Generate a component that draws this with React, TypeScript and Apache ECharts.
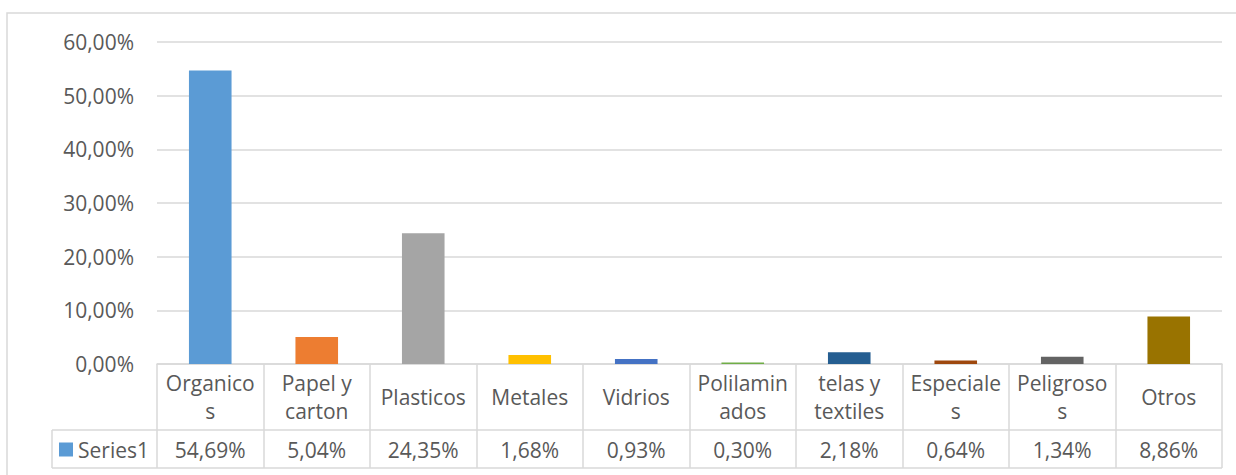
import React, { useEffect, useRef } from "react";
import * as echarts from "echarts";

const categories = [
  "Organicos",
  "Papel y carton",
  "Plasticos",
  "Metales",
  "Vidrios",
  "Polilaminados",
  "telas y textiles",
  "Especiales",
  "Peligrosos",
  "Otros",
];
const categoryLabels = [
  "Organico\ns",
  "Papel y\ncarton",
  "Plasticos",
  "Metales",
  "Vidrios",
  "Polilamin\nados",
  "telas y\ntextiles",
  "Especiale\ns",
  "Peligroso\ns",
  "Otros",
];
const seriesName = "Series1";
const values = [54.69, 5.04, 24.35, 1.68, 0.93, 0.3, 2.18, 0.64, 1.34, 8.86];
const barColors = [
  "#5B9BD5",
  "#ED7D31",
  "#A5A5A5",
  "#FFC000",
  "#4472C4",
  "#70AD47",
  "#255E91",
  "#9E480E",
  "#636363",
  "#997300",
];
const yTicks = { min: 0, max: 60, interval: 10 };

const FONT = "'Open Sans', sans-serif";
const FS = 21;
const TXT = "#595959";
const LINE = "#D9D9D9";

const pct = (v: number) => v.toFixed(2).replace(".", ",") + "%";

export default function App() {
  const ref = useRef<HTMLDivElement>(null);
  useEffect(() => {
    if (!ref.current) return;
    const chart = echarts.init(ref.current, null, { renderer: "svg" });
    chart.setOption({
      animation: false,
      textStyle: { fontFamily: FONT },
      grid: { left: 157, right: 14, top: 42, bottom: 111, containLabel: false },
      legend: {
        data: [{ name: seriesName, itemStyle: { color: barColors[0] } }],
        left: 59,
        top: 439,
        padding: 0,
        icon: "rect",
        itemWidth: 14,
        itemHeight: 14,
        itemGap: 5,
        textStyle: { fontFamily: FONT, fontSize: FS, color: TXT, lineHeight: 20, padding: [0, 0, 0, 0] },
      },
      xAxis: [
        {
          type: "category",
          data: categories,
          position: "bottom",
          axisLine: { show: true, lineStyle: { color: LINE, width: 1.5 } },
          axisTick: { show: true, length: 104, alignWithLabel: false, lineStyle: { color: LINE, width: 1.5 } },
          axisLabel: {
            interval: 0,
            margin: 33,
            verticalAlign: "middle",
            align: "center",
            fontFamily: FONT,
            fontSize: FS,
            lineHeight: 28,
            color: TXT,
            formatter: (_v: string, i: number) => categoryLabels[i],
          },
        },
        {
          type: "category",
          data: categories,
          position: "bottom",
          gridIndex: 0,
          axisLine: { show: false },
          axisTick: { show: false },
          axisLabel: {
            interval: 0,
            margin: 86,
            verticalAlign: "middle",
            align: "center",
            fontFamily: FONT,
            fontSize: FS,
            color: TXT,
            formatter: (_v: string, i: number) => pct(values[i]),
          },
        },
      ],
      yAxis: {
        type: "value",
        min: yTicks.min,
        max: yTicks.max,
        interval: yTicks.interval,
        axisLine: { show: false },
        axisTick: { show: false },
        splitLine: { show: true, lineStyle: { color: LINE, width: 1.5 } },
        axisLabel: {
          margin: 23,
          fontFamily: FONT,
          fontSize: FS,
          color: TXT,
          formatter: (v: number) => pct(v),
        },
      },
      series: [
        {
          name: seriesName,
          type: "bar",
          xAxisIndex: 0,
          barCategoryGap: "60%",
          data: values.map((v, i) => ({ value: v, itemStyle: { color: barColors[i] } })),
        },
      ],
      graphic: [
        {
          type: "rect",
          shape: { x: 7, y: 13, width: 1400, height: 600 },
          style: { fill: "none", stroke: LINE, lineWidth: 1.5 },
          silent: true,
        },
        {
          type: "line",
          shape: { x1: 52, y1: 430, x2: 1222, y2: 430 },
          style: { stroke: LINE, lineWidth: 1.5 },
        },
        {
          type: "line",
          shape: { x1: 52, y1: 468, x2: 1222, y2: 468 },
          style: { stroke: LINE, lineWidth: 1.5 },
        },
        {
          type: "line",
          shape: { x1: 52, y1: 430, x2: 52, y2: 468 },
          style: { stroke: LINE, lineWidth: 1.5 },
        },
      ],
    });
    return () => chart.dispose();
  }, []);
  return (
    <div
      ref={ref}
      style={{ position: "fixed", left: 0, top: 0, width: 1236, height: 475, background: "#fff" }}
    />
  );
}
